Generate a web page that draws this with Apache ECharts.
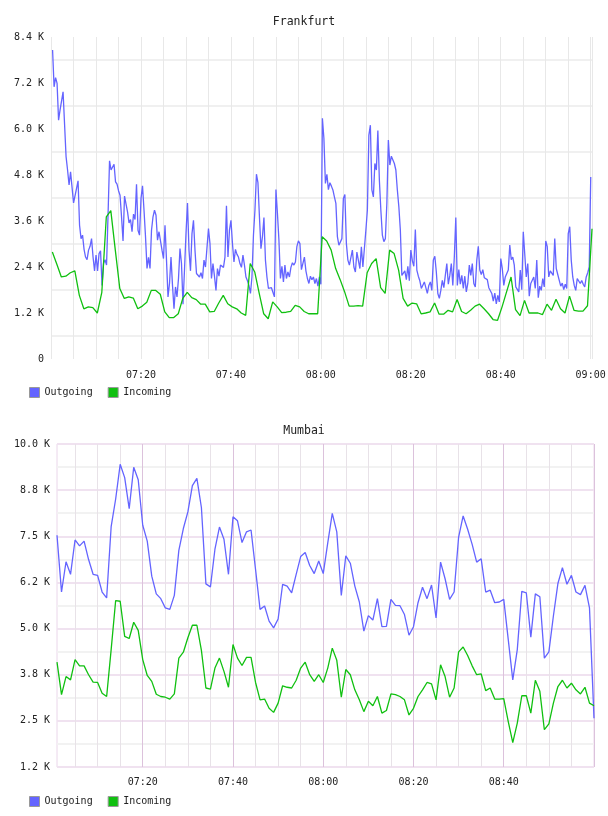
<!DOCTYPE html>
<html>
<head>
<meta charset="utf-8">
<title>Frankfurt / Mumbai traffic</title>
<script src="https://cdn.jsdelivr.net/npm/echarts@6/dist/echarts.min.js"></script>
<style>
  html, body { margin: 0; padding: 0; background: #fff; }
  #traffic { width: 608px; height: 816px; }
</style>
</head>
<body>
<div id="traffic"></div>
<script>
// all values in K (thousands)
// Frankfurt outgoing: one sample every 20 s, incoming: one per minute
const frankfurtOut = [
  8.06, 7.10, 7.34, 7.19, 6.23, 6.50, 6.45, 6.97, 6.95, 5.28,
  4.93, 4.54, 4.88, 4.93, 4.07, 4.04, 4.45, 4.65, 3.49, 3.14,
  3.23, 2.86, 2.66, 2.59, 2.84, 2.94, 3.14, 2.66, 2.30, 2.71,
  2.30, 2.75, 2.82, 1.92, 2.49, 2.59, 2.45, 3.75, 5.17, 4.93,
  4.95, 5.08, 4.62, 4.56, 4.39, 4.27, 3.71, 3.08, 4.25, 4.23,
  3.84, 3.55, 3.64, 3.32, 3.78, 3.64, 4.56, 3.36, 3.23, 4.19,
  4.52, 3.88, 3.19, 2.36, 2.65, 2.36, 3.36, 3.71, 3.88, 3.75,
  3.10, 3.32, 3.36, 2.84, 2.62, 3.49, 2.58, 1.62, 1.97, 2.66,
  1.92, 1.31, 1.88, 1.62, 2.10, 2.88, 2.49, 1.43, 2.32, 3.27,
  4.07, 2.84, 2.30, 3.27, 3.62, 2.84, 2.23, 2.18, 2.14, 2.25,
  2.10, 2.58, 2.40, 2.36, 3.40, 3.01, 2.10, 2.49, 2.16, 1.79,
  2.36, 2.16, 2.45, 2.47, 2.39, 2.66, 4.00, 2.66, 3.36, 3.62,
  3.01, 2.53, 2.86, 2.73, 2.66, 2.49, 2.39, 2.71, 2.45, 2.14,
  2.04, 1.92, 1.71, 2.14, 3.23, 3.88, 4.82, 4.60, 3.71, 2.88,
  3.19, 3.69, 2.58, 2.14, 1.84, 1.88, 1.86, 1.90, 1.62, 4.42,
  3.80, 3.10, 2.10, 2.42, 2.01, 2.45, 2.10, 2.27, 2.14, 2.39,
  2.51, 2.45, 2.53, 2.94, 3.08, 3.01, 2.33, 2.30, 2.66, 2.30,
  2.10, 1.97, 2.16, 2.07, 2.14, 1.97, 2.10, 1.90, 2.14, 1.95,
  6.28, 5.76, 4.58, 4.82, 4.42, 4.60, 4.51, 4.41, 4.23, 4.06,
  3.19, 2.97, 2.93, 3.14, 4.19, 4.29, 3.01, 2.58, 2.45, 2.49,
  2.84, 2.40, 2.27, 2.79, 2.75, 2.36, 2.93, 2.40, 2.45, 3.36,
  3.88, 5.84, 6.10, 4.41, 4.23, 5.10, 4.93, 5.96, 4.67, 3.88,
  3.23, 3.06, 3.14, 4.06, 5.71, 5.06, 5.29, 5.28, 5.10, 4.93,
  4.41, 3.97, 3.36, 2.18, 2.14, 2.30, 2.07, 2.42, 2.04, 2.84,
  2.56, 2.42, 3.38, 2.32, 2.16, 2.04, 1.84, 1.79, 2.01, 2.04,
  1.71, 1.92, 2.01, 1.79, 2.58, 2.68, 2.27, 1.71, 1.58, 1.79,
  2.05, 1.86, 2.18, 2.49, 1.95, 2.18, 2.49, 1.92, 2.66, 3.69,
  1.92, 2.33, 1.95, 2.18, 1.84, 2.16, 1.75, 1.97, 2.45, 2.18,
  2.49, 1.97, 1.88, 2.58, 2.94, 2.32, 2.20, 2.33, 2.12, 2.12,
  2.07, 1.86, 1.84, 1.71, 1.51, 1.72, 1.44, 1.66, 1.49, 2.62,
  2.36, 1.92, 2.14, 2.10, 2.32, 2.97, 2.59, 2.66, 2.45, 1.88,
  1.84, 1.75, 2.32, 1.81, 3.32, 3.27, 2.14, 2.49, 1.64, 1.97,
  1.92, 2.14, 1.84, 2.58, 1.60, 1.90, 1.79, 2.10, 1.88, 3.08,
  2.93, 2.14, 2.30, 2.27, 2.18, 3.14, 2.36, 2.32, 2.05, 1.90,
  1.98, 1.81, 1.95, 1.84, 3.27, 3.45, 2.58, 2.14, 1.92, 1.79,
  2.10, 2.07, 1.97, 2.05, 1.95, 1.88, 2.14, 2.25, 2.40, 4.75
];
const frankfurtIn = [
  2.79, 2.47, 2.14, 2.16, 2.25, 2.30, 1.66, 1.31, 1.36, 1.34,
  1.20, 1.74, 3.71, 3.87, 2.84, 1.84, 1.58, 1.62, 1.59, 1.31,
  1.38, 1.48, 1.79, 1.79, 1.69, 1.23, 1.08, 1.08, 1.18, 1.58,
  1.74, 1.60, 1.55, 1.43, 1.43, 1.23, 1.24, 1.46, 1.66, 1.44,
  1.36, 1.31, 1.20, 1.14, 2.49, 2.27, 1.71, 1.18, 1.05, 1.49,
  1.36, 1.21, 1.22, 1.24, 1.40, 1.36, 1.24, 1.18, 1.18, 1.18,
  3.19, 3.08, 2.84, 2.36, 2.07, 1.75, 1.38, 1.38, 1.39, 1.38,
  2.25, 2.49, 2.62, 1.86, 1.71, 2.84, 2.75, 2.32, 1.58, 1.38,
  1.46, 1.44, 1.18, 1.20, 1.23, 1.46, 1.17, 1.17, 1.27, 1.23,
  1.55, 1.24, 1.18, 1.27, 1.38, 1.43, 1.31, 1.18, 1.03, 1.01,
  1.36, 1.75, 2.14, 1.29, 1.13, 1.53, 1.20, 1.20, 1.20, 1.16,
  1.43, 1.27, 1.56, 1.31, 1.20, 1.64, 1.27, 1.25, 1.25, 1.39,
  3.40
];

// Mumbai: one sample per minute, 07:01 .. 09:00
const mumbaiOut = [
  7.53, 5.99, 6.81, 6.47, 7.40, 7.24, 7.37, 6.87, 6.47, 6.44,
  5.99, 5.83, 7.76, 8.51, 9.45, 9.09, 8.25, 9.37, 9.03, 7.80,
  7.37, 6.42, 5.94, 5.81, 5.56, 5.52, 5.90, 7.12, 7.71, 8.16,
  8.87, 9.07, 8.28, 6.21, 6.13, 7.15, 7.75, 7.42, 6.47, 8.03,
  7.92, 7.33, 7.62, 7.67, 6.60, 5.52, 5.61, 5.20, 5.02, 5.26,
  6.20, 6.15, 5.97, 6.47, 6.95, 7.06, 6.71, 6.49, 6.83, 6.49,
  7.32, 8.12, 7.62, 5.90, 6.97, 6.77, 6.15, 5.72, 4.93, 5.35,
  5.23, 5.81, 5.05, 5.06, 5.79, 5.63, 5.62, 5.38, 4.82, 5.05,
  5.70, 6.12, 5.81, 6.18, 5.29, 6.80, 6.35, 5.79, 5.99, 7.48,
  8.05, 7.69, 7.28, 6.80, 6.89, 5.99, 6.04, 5.70, 5.72, 5.79,
  4.70, 3.61, 4.43, 6.01, 5.97, 4.77, 5.94, 5.86, 4.20, 4.37,
  5.34, 6.22, 6.65, 6.20, 6.44, 5.99, 5.92, 6.17, 5.56, 2.57
];
const mumbaiIn = [
  4.09, 3.21, 3.70, 3.61, 4.16, 3.99, 3.99, 3.75, 3.55, 3.54,
  3.25, 3.16, 4.43, 5.76, 5.74, 4.79, 4.73, 5.17, 4.95, 4.16,
  3.73, 3.57, 3.22, 3.16, 3.14, 3.09, 3.23, 4.20, 4.36, 4.75,
  5.09, 5.09, 4.41, 3.39, 3.36, 3.93, 4.20, 3.84, 3.41, 4.57,
  4.20, 4.00, 4.22, 4.22, 3.54, 3.07, 3.09, 2.84, 2.73, 2.98,
  3.45, 3.41, 3.39, 3.60, 3.93, 4.09, 3.75, 3.57, 3.75, 3.54,
  3.93, 4.47, 4.14, 3.14, 3.89, 3.75, 3.34, 3.07, 2.75, 3.03,
  2.91, 3.16, 2.71, 2.78, 3.23, 3.21, 3.16, 3.07, 2.66, 2.84,
  3.16, 3.34, 3.54, 3.50, 3.07, 4.02, 3.70, 3.14, 3.39, 4.37,
  4.50, 4.27, 3.99, 3.75, 3.77, 3.32, 3.39, 3.09, 3.09, 3.10,
  2.48, 1.91, 2.44, 3.18, 3.18, 2.71, 3.60, 3.30, 2.26, 2.42,
  2.98, 3.43, 3.60, 3.39, 3.52, 3.34, 3.23, 3.41, 2.98, 2.91
];

const frankfurtYLabels = ['0', '1.2 K', '2.4 K', '3.6 K', '4.8 K', '6.0 K', '7.2 K', '8.4 K'];
const mumbaiYLabels = ['1.2 K', '2.5 K', '3.8 K', '5.0 K', '6.2 K', '7.5 K', '8.8 K', '10.0 K'];

// sample timing, minutes after 07:00
const frankfurtOutStart = 0.35, frankfurtOutStep = 1 / 3;
const frankfurtInStart = 0.3, frankfurtInStep = 1;
const mumbaiFirstMinute = 1;

const font = 'DejaVu Sans Mono';
const blue = '#6464ff';
const green = '#10c010';

function hhmm (m) {
  let t = 7 * 60 + Math.round(m);
  let h = Math.floor(t / 60), mm = t % 60;
  return (h < 10 ? '0' : '') + h + ':' + (mm < 10 ? '0' : '') + mm;
}

let mumbaiTimes = mumbaiOut.map((v, i) => hhmm(mumbaiFirstMinute + i));
let fOut = frankfurtOut.map((v, i) => [frankfurtOutStart + i * frankfurtOutStep, v]);
let fIn = frankfurtIn.map((v, i) => [frankfurtInStart + i * frankfurtInStep, v]);

let labelStyle = { fontFamily: font, fontSize: 10, color: '#222' };
let titleStyle = { fontFamily: font, fontSize: 11.5, fontWeight: 'normal', color: '#222' };

let myChart = echarts.init(document.getElementById('traffic'));
myChart.setOption({
  animation: false,
  backgroundColor: '#fff',
  title: [
    { text: 'Frankfurt', left: 'center', top: 11, textStyle: titleStyle },
    { text: 'Mumbai', left: 'center', top: 420, textStyle: titleStyle }
  ],
  legend: [
    {
      left: 24, top: 382, icon: 'rect', itemWidth: 10, itemHeight: 10, itemGap: 15,
      itemStyle: { borderColor: '#999', borderWidth: 1 },
      textStyle: labelStyle, data: ['Outgoing', 'Incoming']
    },
    {
      left: 24, top: 791, icon: 'rect', itemWidth: 10, itemHeight: 10, itemGap: 15,
      itemStyle: { borderColor: '#999', borderWidth: 1 },
      textStyle: labelStyle, data: ['Outgoing', 'Incoming']
    }
  ],
  grid: [
    { left: 51, top: 37, width: 541, height: 322, outerBoundsMode: 'none' },
    { left: 57, top: 444, width: 537, height: 323, outerBoundsMode: 'none',
      show: true, borderColor: '#ead6ea', borderWidth: 1 }
  ],
  xAxis: [
    {
      gridIndex: 0, type: 'value', min: 0, max: 120.3, interval: 5,
      axisLine: { show: false }, axisTick: { show: false },
      axisLabel: Object.assign({
        margin: 11,
        showMinLabel: true, showMaxLabel: true,
        formatter: (v) => (v > 0 && Math.abs(v % 20) < 1e-6) ? hhmm(v) : ''
      }, labelStyle),
      splitLine: { show: true, lineStyle: { color: '#e8e8e8', width: 1 } }
    },
    {
      gridIndex: 1, type: 'category', boundaryGap: false, data: mumbaiTimes,
      axisLine: { show: false }, axisTick: { show: false },
      axisLabel: Object.assign({
        margin: 10,
        interval: (i) => i < mumbaiTimes.length - 1 && (mumbaiFirstMinute + i) % 20 === 0
      }, labelStyle),
      splitLine: {
        show: true,
        interval: (i) => (mumbaiFirstMinute + i) % 5 === 0 && (mumbaiFirstMinute + i) % 20 !== 0,
        lineStyle: { color: '#e8e2e8', width: 1 }
      }
    },
    {
      gridIndex: 1, type: 'category', boundaryGap: false, data: mumbaiTimes,
      axisLine: { show: false }, axisTick: { show: false }, axisLabel: { show: false },
      splitLine: {
        show: true,
        interval: (i) => (mumbaiFirstMinute + i) % 20 === 0,
        lineStyle: { color: '#dcc2dc', width: 1 }
      }
    }
  ],
  yAxis: [
    {
      gridIndex: 0, type: 'value', min: 0, max: 8.4, interval: 1.2,
      axisLine: { show: false }, axisTick: { show: false },
      axisLabel: Object.assign({
        margin: 7,
        formatter: (v) => frankfurtYLabels[Math.round(v / 1.2)]
      }, labelStyle),
      splitLine: { show: false },
      minorTick: { show: false, splitNumber: 2 },
      minorSplitLine: { show: true, lineStyle: { color: '#f0f0f0', width: 2 } }
    },
    {
      gridIndex: 1, type: 'value', min: 1.25, max: 10, interval: 1.25,
      axisLine: { show: false }, axisTick: { show: false },
      axisLabel: Object.assign({
        margin: 7,
        formatter: (v) => mumbaiYLabels[Math.round((v - 1.25) / 1.25)]
      }, labelStyle),
      splitLine: { show: true, lineStyle: { color: '#f0e2f0', width: 2 } },
      minorTick: { show: false, splitNumber: 2 },
      minorSplitLine: { show: true, lineStyle: { color: '#f2f2f2', width: 2 } }
    }
  ],
  series: [
    {
      name: 'Outgoing', type: 'line', xAxisIndex: 0, yAxisIndex: 0, data: fOut,
      symbol: 'none', itemStyle: { color: blue }, lineStyle: { color: blue, width: 1.3 }
    },
    {
      name: 'Incoming', type: 'line', xAxisIndex: 0, yAxisIndex: 0, data: fIn,
      symbol: 'none', itemStyle: { color: green }, lineStyle: { color: green, width: 1.3 }
    },
    {
      name: 'Outgoing', type: 'line', xAxisIndex: 1, yAxisIndex: 1, data: mumbaiOut,
      symbol: 'none', itemStyle: { color: blue }, lineStyle: { color: blue, width: 1.3 }
    },
    {
      name: 'Incoming', type: 'line', xAxisIndex: 1, yAxisIndex: 1, data: mumbaiIn,
      symbol: 'none', itemStyle: { color: green }, lineStyle: { color: green, width: 1.3 }
    }
  ]
});
window.addEventListener('resize', () => {
  myChart.resize();
});
</script>
</body>
</html>
